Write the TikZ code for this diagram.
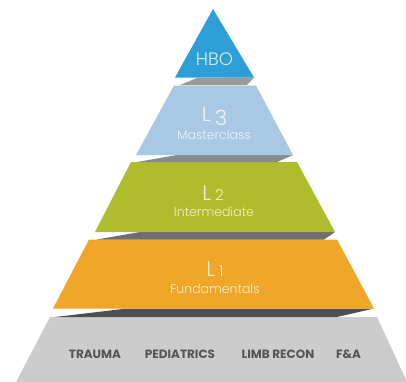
\documentclass[tikz,border=0pt]{standalone}
\usepackage{fontspec}
\setmainfont{Poppins}
\IfFontExistsTF{Poppins Light}{\newfontfamily\lightfont{Poppins Light}}{\newfontfamily\lightfont{Poppins}}
\definecolor{hbo}{HTML}{2D9FD6}
\definecolor{lthree}{HTML}{A8C8E4}
\definecolor{ltwo}{HTML}{AFBC2B}
\definecolor{lone}{HTML}{F0A629}
\definecolor{basegray}{HTML}{CCCCCC}
\definecolor{bandA}{HTML}{9A9A9A}
\definecolor{bandB}{HTML}{8A8A8A}
\definecolor{bandC}{HTML}{6E6E6E}
\definecolor{bandD}{HTML}{4F4F4F}
\definecolor{basetext}{HTML}{555555}
\tikzset{
  lvltext/.style={text=white, text opacity=0.8, inner sep=0pt, anchor=base},
  bigL/.style={lvltext, font=\lightfont\fontsize{21}{21}\selectfont},
  subtext/.style={lvltext, font=\lightfont\fontsize{12.5}{12.5}\selectfont},
  basetxt/.style={text=basetext, inner sep=0pt, anchor=base, font=\bfseries\fontsize{12}{12}\selectfont}
}
\newcommand{\smalldig}[1]{{\fontsize{15}{15}\selectfont #1}}
\begin{document}
\begin{tikzpicture}[x=1pt,y=-1pt]
\useasboundingbox (0,0) rectangle (406,381);
\fill[white] (0,0) rectangle (406,381);
% base
\fill[basegray] (50,317) -- (377,317) -- (408,384) -- (15,384) -- cycle;
\fill[bandD] (55,317) -- (127,308.5) -- (374,308.5) -- (337,317) -- cycle;
% L1
\fill[lone] (89,239.5) -- (337,239.5) -- (374,308.5) -- (53,308.5) -- cycle;
\fill[bandC] (97,239.5) -- (140,232) -- (335,232) -- (324,239.5) -- cycle;
% L2
\fill[ltwo] (131,162) -- (297,162) -- (335,232) -- (95,232) -- cycle;
\fill[bandB] (137,162) -- (177,155) -- (293,155) -- (277,162) -- cycle;
% L3
\fill[lthree] (174,85.5) -- (256,85.5) -- (293,155) -- (136,155) -- cycle;
\fill[bandA] (180,85) -- (197,78) -- (254,77.5) -- (247,85) -- cycle;
% HBO
\fill[hbo] (213,9) -- (254,77.5) -- (175,77.5) -- cycle;
% texts
\node[lvltext, font=\lightfont\fontsize{18}{18}\selectfont] (thbo) at (214.5,65) {HBO};
\node[bigL] (tl3) at (214.5,121.5) {L\hspace{4pt}\raisebox{-4pt}{3}};
\node[subtext] (tl3s) at (214,139.5) {Masterclass};
\node[bigL] (tl2) at (213,200) {L\hspace{4pt}\smalldig{2}};
\node[subtext] (tl2s) at (214,216.5) {Intermediate};
\node[bigL] (tl1) at (215,276.7) {L\hspace{4pt}\smalldig{1}};
\node[subtext] (tl1s) at (215,293) {Fundamentals};
\node[basetxt] (tr) at (95,358) {TRAUMA};
\node[basetxt] (pe) at (180,358) {PEDIATRICS};
\node[basetxt] (li) at (278,358) {LIMB RECON};
\node[basetxt] (fa) at (348.5,358) {F\&A};
\end{tikzpicture}
\end{document}
